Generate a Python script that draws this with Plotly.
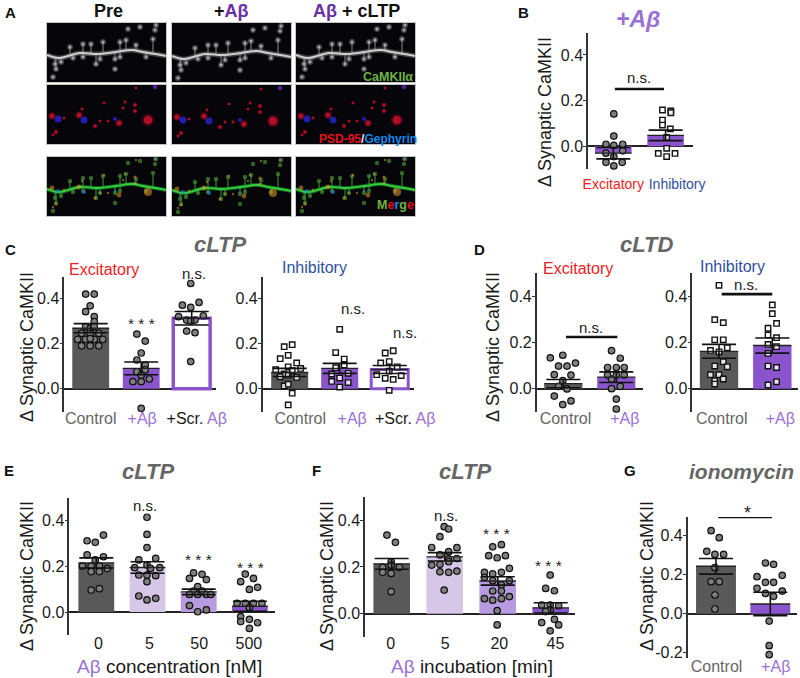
import numpy as np
import plotly.graph_objects as go

# ---------- data: (group offset, value) per group ----------
B_EXC_X = [.01,.01,-.14,.01,.18,-.14,.01,.18,-.14,.17,.01]
B_EXC_Y = [.142,.045,.009,.004,.009,-.03,-.045,-.02,-.07,-.07,-.086]
B_INH_X = [-.06,.1,-.06,.1,-.06,.09,.02,.02,-.14,.18,.02]
B_INH_Y = [.159,.155,.115,.147,.093,.076,.039,-.009,-.031,-.031,-.045]

CE_CTRL_X = [-.1,.07,-.01,-.1,.07,.07,-.1,-.01,.07,-.18,-.01,.16,-.26,-.1,.07,.24,-.18,-.01,.16,-.01]
CE_CTRL_Y = [.419,.419,.367,.341,.319,.297,.275,.267,.275,.245,.245,.245,.218,.218,.218,.218,.19,.19,.19,.222]
CE_AB_X = [-.086,.08,0,-.086,.08,-.086,.08,-.165,0,.16,0,0]
CE_AB_Y = [.242,.211,.158,.127,.105,.075,.083,.031,.031,.043,.06,-.087]
CE_SCR_X = [-.02,-.185,-.02,.145,-.26,-.1,.066,.23,-.1,.066,-.02,-.02]
CE_SCR_Y = [.466,.37,.36,.382,.319,.304,.304,.323,.255,.248,.12,.3]

CI_CTRL_X = [-.11,.05,-.03,-.19,-.03,.14,-.28,.22,.05,-.11,-.19,-.03,.14,-.11,-.03,.05,-.03]
CI_CTRL_Y = [.186,.195,.148,.133,.097,.114,.084,.09,.08,.065,.053,.06,.05,.012,.02,-.02,-.072]
CI_AB_X = [0,-.08,.09,-.08,.09,-.16,.17,0,-.16,.17,0]
CI_AB_Y = [.263,.16,.131,.093,.105,.065,.068,.047,.032,.027,.007]
CI_SCR_X = [-.09,.07,-.18,-.01,.15,-.26,-.01,-.09,.07,.23,-.01]
CI_SCR_Y = [.158,.168,.114,.12,.097,.062,.078,.046,.041,.058,-.007]

DE_CTRL_X = [-.245,-.01,-.09,.07,.23,-.17,.145,-.01,-.09,.07,-.17,.145,-.01]
DE_CTRL_Y = [.134,.145,.098,.098,.111,.061,.059,.035,.01,-.001,-.032,-.053,-.069]
DE_AB_X = [-.09,.075,-.165,0,.15,-.09,0,-.165,-.09,.075,0,0,.15]
DE_AB_Y = [.165,.132,.092,.092,.092,.042,.059,.059,0,.01,-.045,-.088,.059]

DI_CTRL_X = [0,-.08,.08,-.08,.08,.155,-.16,0,.08,-.08,.155,-.16,0,-.08,.08,-.08]
DI_CTRL_Y = [.448,.299,.286,.212,.212,.178,.166,.16,.117,.098,.095,.061,.061,.035,.042,.02]
DI_AB_X = [0,0,.08,-.08,-.08,.08,-.08,.08,-.08,-.08,.08,.08,-.08]
DI_AB_Y = [.363,.325,.283,.262,.233,.221,.192,.182,.153,.098,.092,.03,.016]

E0_X = [.14,-.18,-.02,-.18,.14,-.02,-.27,-.1,.06,.215,-.1,.06,-.1,.06]
E0_Y = [.337,.312,.305,.25,.242,.228,.201,.201,.201,.19,.177,.177,.096,.102]
E5_X = [-.01,-.01,-.01,.16,-.17,-.01,-.25,.24,.06,-.17,-.01,.16,-.01,-.17,-.01,.16]
E5_Y = [.415,.34,.282,.235,.228,.206,.194,.194,.191,.162,.162,.159,.133,.07,.053,.06]
E50_X = [-.1,.065,-.18,.15,-.02,-.1,.065,-.18,-.02,.15,.235,-.18,-.02,.15]
E50_Y = [.171,.165,.147,.142,.111,.092,.092,.077,.077,.077,.077,.028,.001,.009]
E500_X = [-.09,.07,-.18,-.01,.15,-.25,-.09,.07,.235,-.01,-.18,-.01,-.18,.15,-.01]
E500_Y = [.166,.147,.133,.099,.108,.038,.038,.038,.038,.019,-.02,-.032,-.042,-.047,-.072]

F0_X = [-.09,.07,-.01,-.17,.145,-.01,-.01,-.17,-.01]
F0_Y = [.336,.305,.222,.198,.198,.208,.172,.177,.094]
F5_X = [-.01,.075,-.09,-.245,.23,.075,-.09,.075,.23,-.245,-.09,.075,-.09,.075,.23,-.01]
F5_Y = [.372,.362,.329,.283,.282,.265,.251,.234,.236,.208,.211,.222,.179,.177,.182,.101]
F20_X = [-.095,.07,-.17,-.01,.145,.22,-.25,-.095,.07,-.25,-.095,.22,.07,-.095,.07,-.25,-.095,.07,.22,-.01,-.01]
F20_Y = [.286,.295,.248,.239,.248,.194,.177,.17,.177,.155,.141,.141,.123,.097,.097,.064,.058,.064,.073,.013,-.048]
F45_X = [-.01,-.095,.07,-.17,-.01,.15,-.01,-.095,.07,-.17,.15,-.01]
F45_Y = [.165,.108,.098,.037,.037,.034,.016,.009,-.024,-.038,-.048,-.073]

G_CTRL_X = [-.09,.06,-.17,-.02,.14,-.02,-.09,.06,-.02,-.02]
G_CTRL_Y = [.426,.39,.32,.304,.304,.236,.164,.164,.096,.024]
G_AB_X = [-.09,.06,-.245,-.09,.06,.22,-.245,-.09,.06,.22,-.02,-.02,-.02]
G_AB_Y = [.26,.253,.19,.161,.161,.197,.13,.104,.089,.116,-.038,-.164,-.21]

B_MEAN = [-.03,.048];           B_SEM = [.025,.023]
CE_MEAN = [.268,.09,.312];      CE_SEM = [.02,.028,.03]
CI_MEAN = [.072,.09,.085];      CI_SEM = [.018,.022,.018]
DE_MEAN = [.022,.05];           DE_SEM = [.018,.023]
DI_MEAN = [.162,.187];          DI_SEM = [.03,.033]
E_MEAN = [.215,.195,.088,.025]; E_SEM = [.022,.025,.012,.022]
F_MEAN = [.213,.243,.14,.025];  F_SEM = [.023,.018,.018,.022]
G_MEAN = [.243,.05];            G_SEM = [.04,.06]

# micrograph sketch (panel A), in image pixels
DEND_X = [0,12,33,50,69,85,96,108,119]
DEND_Y = [32,35,30,31,29,27,29,31,33]
SPINE_X = [23,36,44,56,73,79,89,106,108,81,93,109,53,49,68,68,73,99,8,14,9,6,26,36]
SPINE_Y = [24,21,21,19,19,17,22,16,7,6,4,2,36,41,36,46,34,34,41,39,46,54,35,34]
RED_X = [5,17,32,35,48,53,57,61,72,76,78,88,88,101,89,108,9,6]
RED_Y = [31,33,30,24,41,36,18,36,38,23,17,20,26,35,3,2,47,50]
RED_S = [6,3,6,3,4,3,3,3,6,3,3,4,4,10,3,4,4,3]
BLUE_X = [11,37,68,108]
BLUE_Y = [34,35,34,2]
BLUE_S = [7,7,4,4]
COL_DX = [0,0,0]
COL_DY = [0,1,0]

# ---------- styles ----------
W, H = 800, 678
FONT = "Liberation Sans"
DARK = "#595959"; PURPLE = "#8a55cc"; LIGHT = "#d6c6e8"; MID = "#b89ae0"
TXT = "#1a1a1a"; LBL = "#9a6fd6"; GRAY = "#666666"; RED = "#f01c24"; BLUE = "#2f4f9f"
NOLINE = dict(width=0)

fig = go.Figure()
ann = []
axn = [0]

def X(p): return p / W
def Y(p): return 1 - p / H

def note(px, py, text, size=16, color=TXT, angle=0):
    ann.append(dict(x=X(px), y=Y(py), xref="paper", yref="paper", text=text, showarrow=False,
                    xanchor="center", yanchor="middle", textangle=angle,
                    font=dict(family=FONT, size=size, color=color)))

def new_axes(xdom, ydom, xa, ya):
    axn[0] += 1
    n = axn[0]
    s = "" if n == 1 else str(n)
    fig.layout["xaxis" + s] = dict(domain=[X(xdom[0]), X(xdom[1])], anchor="y" + s, automargin=False, **xa)
    fig.layout["yaxis" + s] = dict(domain=[Y(ydom[1]), Y(ydom[0])], anchor="x" + s, automargin=False, **ya)
    return "x" + s, "y" + s

def panel(geom, groups, means, sems, colors, tickpos, ticktext, barw, marker, lines=(),
          outline=None, standoff=-4, neg=False, tsize=16):
    left, right, top, bot, y0, k, c0, s = geom
    tv = [-.2, 0, .2, .4] if neg else [0, .2, .4]
    tt = ["-0.2", "0.0", "0.2", "0.4"] if neg else ["0.0", "0.2", "0.4"]
    xa = dict(range=[(left - c0) / s, (right - c0) / s], showgrid=False, zeroline=False, showline=False,
              ticks="", tickvals=tickpos, ticktext=ticktext, tickangle=0, ticklabelstandoff=standoff,
              tickfont=dict(family=FONT, size=tsize, color=TXT))
    ya = dict(range=[(y0 - bot) / k, (y0 - top) / k], showgrid=False, zeroline=True, zerolinecolor="#222222",
              zerolinewidth=1.5, showline=True, linecolor="#333333", linewidth=1.5, ticks="outside", ticklen=3,
              tickwidth=1.2, tickcolor="#333333", tickvals=tv, ticktext=tt, ticklabelstandoff=-3,
              tickfont=dict(family=FONT, size=16, color=TXT))
    xr, yr = new_axes((left, right), (top, bot), xa, ya)
    idx = list(range(len(means)))
    lw = [(outline[i] if outline else 0) for i in idx]
    lc = [PURPLE] * len(means)
    fig.add_trace(go.Bar(x=idx, y=means, width=barw, marker=dict(color=colors, line=dict(width=lw, color=lc)),
                         xaxis=xr, yaxis=yr, showlegend=False))
    for i, (gx, gy) in enumerate(groups):
        fig.add_trace(go.Scatter(x=[i + v for v in gx], y=gy, mode="markers", marker=SYMS[marker], cliponaxis=False,
                                 xaxis=xr, yaxis=yr, showlegend=False))
    fig.add_trace(go.Scatter(x=idx, y=means, mode="markers", marker=dict(size=1, color="#111111", line=NOLINE), cliponaxis=False,
                             error_y=dict(type="data", array=sems, width=17, thickness=1.6, color="#111111"),
                             error_x=dict(type="data", array=[barw / 2] * len(idx), width=0, thickness=1.4, color="#222222"),
                             xaxis=xr, yaxis=yr, showlegend=False))
    for a, b, v in lines:
        fig.add_trace(go.Scatter(x=[a, b], y=[v, v], mode="lines", line=dict(color="#111111", width=2.6),
                                 cliponaxis=False, xaxis=xr, yaxis=yr, showlegend=False))

SYMS = dict(circle=dict(symbol="circle", size=6.5, color="#7f7f7f", line=dict(color="#111111", width=1.2)),
            square=dict(symbol="square", size=5.4, color="rgba(255,255,255,0.85)", line=dict(color="#111111", width=1.4)))

def span(text, color):
    return f'<span style="color:{color}">{text}</span>'

CTRL_T = span("Control", GRAY)
AB_T = span("+Aβ", LBL)
SCR_T = span("+Scr. ", TXT) + span("Aβ", LBL)

# ---------- panel A ----------
IMG_XS = [(47, 166), (172, 291), (296, 415)]
IMG_YS = [(23, 82), (85, 144), (157, 216)]
for c, xd in enumerate(IMG_XS):
    for r, yd in enumerate(IMG_YS):
        ax = dict(range=[0, 119], showgrid=False, zeroline=False, showticklabels=False, ticks="",
                  showline=True, mirror=True, linecolor="#c4c4c4", linewidth=1)
        ay = dict(range=[59, 0], showgrid=False, zeroline=False, showticklabels=False, ticks="",
                  showline=True, mirror=True, linecolor="#c4c4c4", linewidth=1)
        xr, yr = new_axes(xd, yd, ax, ay)
        fig.add_shape(type="rect", xref="x domain" if xr == "x" else xr + " domain",
                      yref="y domain" if yr == "y" else yr + " domain", x0=0, x1=1, y0=0, y1=1,
                      fillcolor="#05050a", line_width=0, layer="below")
        dx, dy = COL_DX[c], COL_DY[c]
        dxs = [v + dx for v in DEND_X]; dys = [v + dy for v in DEND_Y]
        sxs = [v + dx for v in SPINE_X]; sys_ = [v + dy for v in SPINE_Y]
        rxs = [v + dx for v in RED_X]; rys = [v + dy for v in RED_Y]
        bxs = [v + dx for v in BLUE_X]; bys = [v + dy for v in BLUE_Y]
        # stems joining each spine to the dendrite, only for spines near the shaft
        base = np.interp(sxs, dxs, dys)
        stx, sty = [], []
        for a, b, b0 in zip(sxs, sys_, base):
            if abs(b - b0) < 16:
                stx += [a, a, None]; sty += [b, float(b0), None]
        kw = dict(xaxis=xr, yaxis=yr, showlegend=False)
        if r == 0:
            fig.add_trace(go.Scatter(x=stx, y=sty, mode="lines", line=dict(color="rgba(140,140,140,0.5)", width=2), **kw))
            fig.add_trace(go.Scatter(x=sxs, y=sys_, mode="markers", marker=dict(size=6, color="rgba(130,130,130,0.5)", line=NOLINE), **kw))
            fig.add_trace(go.Scatter(x=sxs, y=sys_, mode="markers", marker=dict(size=3, color="rgba(190,190,190,0.8)", line=NOLINE), **kw))
            fig.add_trace(go.Scatter(x=dxs, y=dys, mode="lines", line=dict(color="rgba(130,130,130,0.5)", width=5, shape="spline"), **kw))
            fig.add_trace(go.Scatter(x=dxs, y=dys, mode="lines", line=dict(color="#cfcfcf", width=2, shape="spline"), **kw))
        elif r == 1:
            fig.add_trace(go.Scatter(x=rxs, y=rys, mode="markers", marker=dict(size=[v * 1.3 for v in RED_S], color="rgba(190,20,40,0.35)", line=NOLINE), **kw))
            fig.add_trace(go.Scatter(x=rxs, y=rys, mode="markers", marker=dict(size=[v * .85 for v in RED_S], color="#e8102c", line=NOLINE), **kw))
            fig.add_trace(go.Scatter(x=bxs, y=bys, mode="markers", marker=dict(size=BLUE_S, color="#2a2af0", line=NOLINE), **kw))
        else:
            fig.add_trace(go.Scatter(x=stx, y=sty, mode="lines", line=dict(color="rgba(50,140,50,0.55)", width=2), **kw))
            fig.add_trace(go.Scatter(x=sxs, y=sys_, mode="markers", marker=dict(size=4.5, color="rgba(70,140,50,0.7)", line=NOLINE), **kw))
            fig.add_trace(go.Scatter(x=dxs, y=dys, mode="lines", line=dict(color="rgba(30,160,40,0.55)", width=4, shape="spline"), **kw))
            fig.add_trace(go.Scatter(x=dxs, y=dys, mode="lines", line=dict(color="#34d040", width=1.8, shape="spline"), **kw))
            fig.add_trace(go.Scatter(x=rxs, y=rys, mode="markers", marker=dict(size=[v * .8 for v in RED_S], color="rgba(225,150,40,0.8)", line=NOLINE), **kw))
            fig.add_trace(go.Scatter(x=bxs, y=bys, mode="markers", marker=dict(size=[v * .6 for v in BLUE_S], color="rgba(40,130,220,0.85)", line=NOLINE), **kw))

AB_DEEP = "#6b2fa5"
note(108, 11, "<b>Pre</b>", 18, "#111111")
note(232, 11, "<b>+" + span("Aβ", AB_DEEP) + "</b>", 18, "#111111")
note(356, 11, "<b>" + span("Aβ", AB_DEEP) + " + cLTP</b>", 18, "#111111")
note(388, 76.5, "<b>CaMKIIα</b>", 12.5, "#6db33f")
note(368, 139, "<b>" + span("PSD-95", "#e8101c") + span("/", "#eeeeee") + span("Gephyrin", "#1088e8") + "</b>", 12)
note(395, 205, "<b>" + span("M", "#6db33f") + span("e", "#e8101c") + span("r", "#1088e8") + span("g", "#6db33f") + span("e", "#e8101c") + "</b>", 12.5)

# ---------- bar panels ----------
panel((588, 693, 33, 169, 146.3, 228.3, 613.3, 52.3), [(B_EXC_X, B_EXC_Y)], [B_MEAN[0]], [B_SEM[0]], [PURPLE],
      [0, 1.22], [span("Excitatory", RED), span("Inhibitory", BLUE)], .7, "circle", lines=[(.03, .97, .251)], standoff=5, tsize=14)
# second group of B shares the axes of the first one
fig.add_trace(go.Bar(x=[1], y=[B_MEAN[1]], width=.7, marker=dict(color=PURPLE, line=NOLINE), xaxis=f"x{axn[0]}", yaxis=f"y{axn[0]}", showlegend=False))
fig.add_trace(go.Scatter(x=[1 + v for v in B_INH_X], y=B_INH_Y, mode="markers", cliponaxis=False,
                         marker=SYMS["square"], xaxis=f"x{axn[0]}", yaxis=f"y{axn[0]}", showlegend=False))
fig.add_trace(go.Scatter(x=[1], y=[B_MEAN[1]], mode="markers", marker=dict(size=1, color="#111111", line=NOLINE),
                         error_y=dict(type="data", array=[B_SEM[1]], width=17, thickness=1.6, color="#111111"),
                         error_x=dict(type="data", array=[.35], width=0, thickness=1.4, color="#222222"),
                         xaxis=f"x{axn[0]}", yaxis=f"y{axn[0]}", showlegend=False))

panel((64.3, 216, 277, 412, 388.7, 225.8, 90.7, 50.5),
      [(CE_CTRL_X, CE_CTRL_Y), (CE_AB_X, CE_AB_Y), (CE_SCR_X, CE_SCR_Y)], CE_MEAN, CE_SEM,
      [DARK, PURPLE, "#ffffff"], [0, 1.02, 2.1], [CTRL_T, AB_T, SCR_T], .73, "circle", outline=[0, 0, 3.5], standoff=-5)
panel((262.7, 414.3, 277, 412, 388.7, 225.8, 289.7, 50),
      [(CI_CTRL_X, CI_CTRL_Y), (CI_AB_X, CI_AB_Y), (CI_SCR_X, CI_SCR_Y)], CI_MEAN, CI_SEM,
      [DARK, PURPLE, "#ffffff"], [.21, 1.25, 2.31], [CTRL_T, AB_T, SCR_T], .74, "square", outline=[0, 0, 3], standoff=-5)
panel((536.7, 642.7, 273, 412, 388.7, 230.7, 563.3, 53),
      [(DE_CTRL_X, DE_CTRL_Y), (DE_AB_X, DE_AB_Y)], DE_MEAN, DE_SEM, [DARK, PURPLE],
      [.04, 1.16], [CTRL_T, AB_T], .72, "circle", lines=[(.05, 1.02, .224)], standoff=-5)
panel((692.3, 798.3, 273, 412, 388.7, 230.7, 719, 53.3),
      [(DI_CTRL_X, DI_CTRL_Y), (DI_AB_X, DI_AB_Y)], DI_MEAN, DI_SEM, [DARK, PURPLE],
      [.05, 1.15], [CTRL_T, AB_T], .72, "square", lines=[(.05, 1.0, .41)], standoff=-5)
panel((69.3, 275, 498, 635, 612, 228.3, 96.3, 51.2),
      [(E0_X, E0_Y), (E5_X, E5_Y), (E50_X, E50_Y), (E500_X, E500_Y)], E_MEAN, E_SEM, [DARK, LIGHT, MID, PURPLE],
      [.04, 1.04, 2.01, 2.98], ["0", "5", "50", "500"], .7, "circle", standoff=-3)
panel((365, 575, 497, 637, 613.7, 234, 391.7, 53),
      [(F0_X, F0_Y), (F5_X, F5_Y), (F20_X, F20_Y), (F45_X, F45_Y)], F_MEAN, F_SEM, [DARK, LIGHT, MID, PURPLE],
      [-.02, 1.01, 2.03, 3.09], ["0", "5", "20", "45"], .69, "circle", standoff=-5)
panel((687.7, 797, 517, 658, 613.7, 195, 716, 54.3),
      [(G_CTRL_X, G_CTRL_Y), (G_AB_X, G_AB_Y)], G_MEAN, G_SEM, [DARK, PURPLE],
      [.01, 1.1], [CTRL_T, AB_T], .735, "circle", lines=[(.04, 1.03, .496)], neg=True, standoff=-3)

# ---------- text ----------
YT = "Δ Synaptic CaMKII"
for px, py in [(545, 112), (27, 347), (493, 347), (27, 576), (327, 576), (647, 576)]:
    note(px, py, YT, 18, TXT, -90)

for px, py, t in [(10, 12, "A"), (523, 12, "B"), (10, 249, "C"), (479, 249, "D"), (9, 470, "E"), (316, 470, "F"), (630, 470, "G")]:
    note(px, py, f"<b>{t}</b>", 15, "#111111")

note(638, 19, "<b><i>+Aβ</i></b>", 23, LBL)
note(220, 245, "<b><i>cLTP</i></b>", 22, GRAY)
note(646, 245, "<b><i>cLTD</i></b>", 22, GRAY)
note(148, 471, "<b><i>cLTP</i></b>", 22, GRAY)
note(465, 471, "<b><i>cLTP</i></b>", 22, GRAY)
note(741, 471, "<b><i>ionomycin</i></b>", 21, GRAY)

note(104, 269, "Excitatory", 16, RED)
note(314, 267, "Inhibitory", 16, BLUE)
note(578, 268, "Excitatory", 16, RED)
note(732, 266.5, "Inhibitory", 16, BLUE)

for px, py in [(639, 78), (194, 273), (353, 309), (405, 332), (591, 327), (746, 284.5), (145, 505), (446, 515)]:
    note(px, py, "n.s.", 15)
for px, py in [(141, 323), (198, 559), (250, 567), (496, 533), (548, 565)]:
    note(px, py, "* * *", 15.5)
note(747, 513, "*", 18)

note(169, 666, span("Aβ", LBL) + " concentration [nM]", 19)
note(472, 666, span("Aβ", LBL) + " incubation [min]", 19)

fig.update_layout(width=W, height=H, margin=dict(l=0, r=0, t=0, b=0), paper_bgcolor="white", plot_bgcolor="rgba(0,0,0,0)",
                  barmode="overlay", annotations=ann, showlegend=False, font=dict(family=FONT))
fig.write_html("out.html", config=dict(displayModeBar=False),
               post_script="document.body.style.margin='0';")
